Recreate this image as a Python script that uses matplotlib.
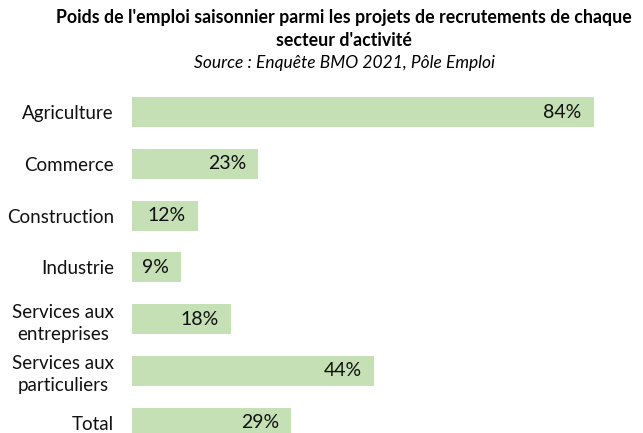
import matplotlib
matplotlib.use("Agg")
import matplotlib.pyplot as plt

plt.rcParams['font.family'] = ['Lato', 'DejaVu Sans']

categories = ["Agriculture", "Commerce", "Construction", "Industrie",
              "Services aux\nentreprises", "Services aux\nparticuliers", "Total"]
values = [84, 23, 12, 9, 18, 44, 29]
value_labels = ["84%", "23%", "12%", "9%", "18%", "44%", "29%"]

bar_color = "#C5E0B4"

fig = plt.figure(figsize=(6.43, 4.33), dpi=100)
ax = fig.add_axes([132 / 643, 0.0, 1 - 132 / 643, (433 - 86) / 433])

pos = list(range(len(categories)))
ax.barh(pos, values, height=0.58, color=bar_color, edgecolor="none")
ax.set_xlim(0, 93)
ax.set_ylim(6.197, -0.502)

for y, v, lab in zip(pos, values, value_labels):
    ax.text(v - 2.2, y, lab, ha="right", va="center", fontsize=14, color="#111111")

ax.set_yticks(pos)
ax.set_yticklabels(categories, fontsize=13.5, color="#111111", ha="right",
                   multialignment="center", linespacing=1.35)
ax.tick_params(axis="y", length=0, pad=13)
ax.set_xticks([])
for s in ax.spines.values():
    s.set_visible(False)

fig.text(0.535, 1 - 17 / 433, "Poids de l'emploi saisonnier parmi les projets de recrutements de chaque",
         ha="center", va="center", fontsize=12.8, fontweight="bold")
fig.text(0.535, 1 - 40 / 433, "secteur d'activité",
         ha="center", va="center", fontsize=12.8, fontweight="bold")
fig.text(0.535, 1 - 63 / 433, "Source : Enquête BMO 2021, Pôle Emploi", ha="center", va="center",
         fontsize=12.5, style="italic")

fig.savefig("out.png", dpi=100)
